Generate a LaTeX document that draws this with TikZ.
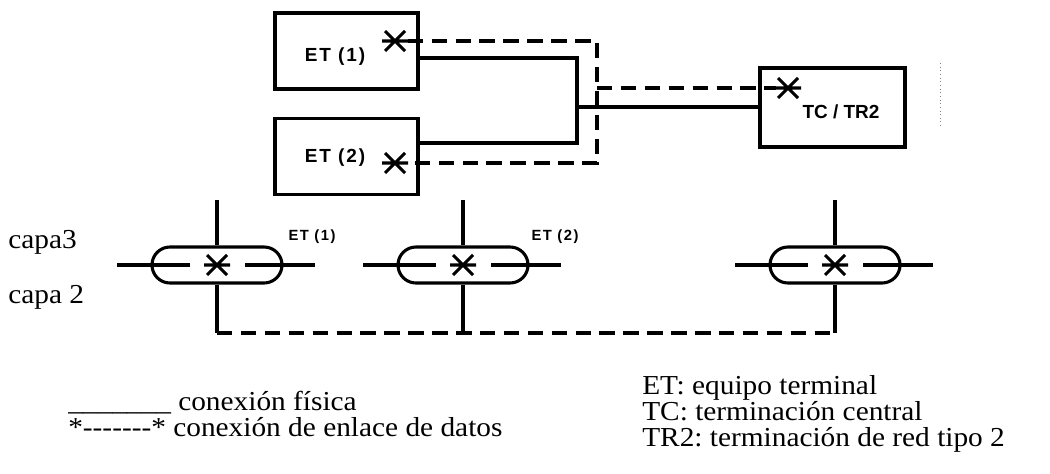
\documentclass[tikz,border=0pt]{standalone}
\usepackage{fontspec}
\setmainfont{Liberation Serif}
\newfontfamily\legfont[FakeStretch=1.07]{Liberation Serif}
\newfontfamily\etfont[LetterSpace=10]{Liberation Sans}
\newfontfamily\tcfont{Liberation Sans}
\usetikzlibrary{positioning, shapes.misc, calc}

% asterisk drawn over a star node
\newcommand{\asterisco}[1]{%
  \draw[line width=2.2pt] ($(#1)+(-13,0)$) -- ($(#1)+(13,0)$)
    ($(#1)+(-10,-10)$) -- ($(#1)+(10,10)$)
    ($(#1)+(-10,10)$) -- ($(#1)+(10,-10)$);}

\begin{document}
\begin{tikzpicture}[
    x=0.025cm, y=-0.025cm,
    node distance=0.65cm and 0.5cm,
    box/.style={draw, rectangle, line width=2.5pt, minimum width=3.575cm, minimum height=1.9cm},
    etlabel/.style={font=\etfont\bfseries\fontsize{13.5}{15}\selectfont, inner sep=0pt},
    etsmall/.style={font=\etfont\bfseries\fontsize{10.5}{12}\selectfont, inner sep=0pt},
    star/.style={circle, inner sep=0pt, minimum size=0.62cm},
    pill/.style={draw, rounded rectangle, line width=2.2pt, minimum width=3.25cm, minimum height=0.9cm, inner sep=0pt},
    phys/.style={line width=2.5pt},
    physb/.style={line width=2.2pt},
    datos/.style={line width=2.5pt, dash pattern=on 11pt off 6pt},
    legend/.style={font=\legfont\frenchspacing\fontsize{19.5}{18.3}\selectfont, inner sep=0pt, anchor=base west, align=left}
]
\useasboundingbox (0,0) rectangle (1050,473);

% Upper part: terminals and central termination
\node[box] (et1) at (346.5,51) {};
\node[box, below=0.65cm of et1] (et2) {};
\node[etlabel] (et1txt) at (335,57) {ET (1)};
\node[etlabel] (et2txt) at (335,158) {ET (2)};
\node[star] (et1s) at (395,41) {};
\node[star] (et2s) at (395,163) {};
\asterisco{et1s}
\asterisco{et2s}

\node[box, minimum width=3.625cm, minimum height=1.975cm] (tc) at (832.5,107.5) {};
\node[font=\tcfont\bfseries\fontsize{13.5}{15}\selectfont, inner sep=0pt] (tctxt) at (841,112) {TC / TR2};
\node[star, minimum size=0.58cm] (tcs) at (788,88) {};
\asterisco{tcs}

\coordinate (j1) at (577,58);
\coordinate (j2) at (577,143);
\coordinate (j3) at (577,107);
\draw[phys] (et1.east |- j1) -- (j1) -- (j2) -- (et2.east |- j2);
\draw[phys] (j3) -- (tc.west |- j3);

\coordinate (d1) at (597,41);
\coordinate (d2) at (597,163);
\coordinate (d3) at (597,88);
\draw[datos] (et1s) -- (d1) -- (d2) -- (et2s);
\draw[datos] (d3) -- (tcs);

\draw[gray, dotted, line width=0.6pt] (940,63) -- (940,127);

% Lower part: layers 3 and 2
\node[legend] (capa3) at (8,248) {capa3};
\node[legend] (capa2) at (8,303) {capa 2};

\foreach \n/\x in {1/217, 2/463, 3/835} {
  \node[pill] (p\n) at (\x,265) {};
  \node[star] (s\n) at (\x,265) {};
  \asterisco{s\n}
  \coordinate (t\n) at (\x,200);
  \coordinate (b\n) at (\x,333);
  \coordinate (l\n) at (\x-100,265);
  \coordinate (r\n) at (\x+98,265);
  \draw[physb] (l\n) -- ($(s\n.center)+(-27,0)$);
  \draw[physb] ($(s\n.center)+(28,0)$) -- (r\n);
  \draw[physb] (t\n) -- (p\n.north);
  \draw[physb] (p\n.south) -- (b\n);
}
\draw[datos] (b1) -- (b2) -- (b3);

\node[etsmall] (lab1) at (312,237) {ET (1)};
\node[etsmall] (lab2) at (555,237) {ET (2)};

% Legend
\node[legend] (legl) at (68,436) {\_\_\_\_\_\_\_ conexión física\\*-------* conexión de enlace de datos};
\node[legend] (legr) at (642,446) {ET: equipo terminal\\TC: terminación central\\TR2: terminación de red tipo 2};

\end{tikzpicture}
\end{document}
